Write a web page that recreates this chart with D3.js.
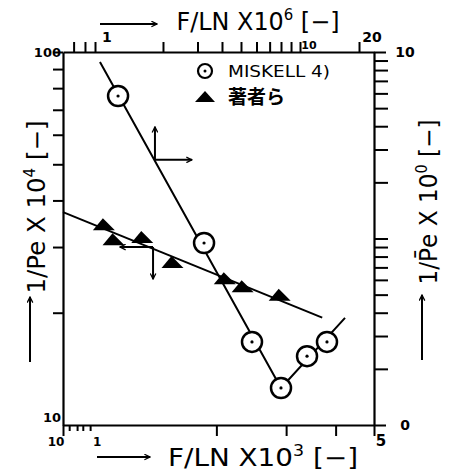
<!DOCTYPE html>
<html><head><meta charset="utf-8">
<script src="https://cdn.jsdelivr.net/npm/d3@7"></script>
<style>body{margin:0;background:#fff}</style>
</head><body>
<svg id="c" width="453" height="474"></svg>
<script>
// ---- data ----
const seriesNames = ["MISKELL 4)", "著者ら"];
// MISKELL: top axis (F/LN x10^6) vs right axis (1/Pe x10^0)
const miskellX = [1.18, 3.24, 5.69, 8.0, 10.86, 13.73];
const miskellY = [5.81, 0.946, 0.279, 0.158, 0.234, 0.279];
const miskellFitX = [0.954, 8.0, 16.97];
const miskellFitY = [8.84, 0.158, 0.375];
// Authors: bottom axis (F/LN x10^3) vs left axis (1/Pe x10^4)
const authorsX = [1.04, 1.10, 1.30, 1.55, 2.10, 2.33, 2.89];
const authorsY = [34.3, 31.3, 31.7, 27.2, 24.6, 23.4, 22.2];
const authorsFitX = [0.82, 3.70];
const authorsFitY = [37.2, 19.4];

const leftTicks = [20, 30, 40, 50, 60, 70, 80, 90, 100];
const leftLabelValues = [10, 100];
const leftLabelTexts = ["10", "100"];
const rightTicks = [0.1, 0.2, 0.3, 0.4, 0.5, 0.6, 0.7, 0.8, 0.9, 1, 2, 3, 4, 5, 6, 7, 8, 9, 10];
const rightLabelValues = [10, 0.1];
const rightLabelTexts = ["10", "0"];
const bottomTicks = [0.82, 0.85, 0.89, 0.92, 0.96, 2, 3, 4, 5];
const bottomLabelValues = [0.82, 1, 5];
const bottomLabelTexts = ["10", "1", "5"];
const topTicks = [0.7, 0.8, 0.9, 2, 3, 4, 5, 6, 7, 8, 9, 10, 20];
const topLabelValues = [1, 10, 20];
const topLabelTexts = ["1", "10", "20"];

// ---- scales ----
const L = 63, R = 374, T = 52, B = 425;
const xBottom = d3.scaleLog().domain([0.82, 5]).range([L, R]);
const xTop = d3.scaleLog().domain([0.618, 23.85]).range([L, R]);
const yLeft = d3.scaleLog().domain([10, 100]).range([B, T]);
const yRight = d3.scaleLog().domain([0.1, 10]).range([B, T]);

const svg = d3.select("#c");
const FONT = "DejaVu Sans, sans-serif";

svg.append("defs").append("marker")
  .attr("id", "ah").attr("viewBox", "0 0 10 10").attr("refX", 9).attr("refY", 5)
  .attr("markerWidth", 7).attr("markerHeight", 7).attr("markerUnits", "userSpaceOnUse")
  .attr("orient", "auto")
  .append("path").attr("d", "M1,1 L9,5 L1,9").attr("fill", "none")
  .attr("stroke", "#000").attr("stroke-width", 1.8);

function styleAxis(g) {
  g.select(".domain").attr("stroke", "#000").attr("stroke-width", 2.2);
  g.selectAll(".tick line").attr("stroke", "#000").attr("stroke-width", 2);
  g.selectAll(".tick text").remove();
}

// axes
svg.append("g").attr("transform", `translate(${L},0)`)
  .call(d3.axisLeft(yLeft).tickValues(leftTicks).tickSize(10).tickSizeOuter(0))
  .call(styleAxis);
svg.append("g").attr("transform", `translate(${R},0)`)
  .call(d3.axisRight(yRight).tickValues(rightTicks).tickSize(13).tickSizeOuter(0))
  .call(styleAxis)
  .selectAll(".tick line").attr("x2", d => (d === 10 || d === 0.1) ? 12 : 14);
svg.append("g").attr("transform", `translate(0,${B})`)
  .call(d3.axisBottom(xBottom).tickValues(bottomTicks).tickSize(10).tickSizeOuter(0))
  .call(styleAxis)
  .selectAll(".tick line").attr("y2", d => d < 1 && d > 0.83 ? 6 : 11);
svg.append("g").attr("transform", `translate(0,${T})`)
  .call(d3.axisTop(xTop).tickValues(topTicks).tickSize(10).tickSizeOuter(0))
  .call(styleAxis);

// tick labels
const lab = (x, y, t, size, anchor) => svg.append("text").attr("x", x).attr("y", y)
  .attr("font-family", FONT).attr("font-size", size).attr("text-anchor", anchor || "middle")
  .attr("font-weight", "bold").text(t);
leftLabelValues.forEach((v, i) => lab(L - 2, yLeft(v) + 5 - (v === 10 ? 8 : 0), leftLabelTexts[i], 13, "end"));
rightLabelValues.forEach((v, i) => lab(R + 31, yRight(v) + 5, rightLabelTexts[i], 14, "middle"));
bottomLabelValues.forEach((v, i) => lab(xBottom(v) + (i === 0 ? -7 : (i === 2 ? 7 : 0)), B + 21, bottomLabelTexts[i], i === 2 ? 15 : 12, "middle"));
topLabelValues.forEach((v, i) => lab(xTop(v) + (i === 0 ? 3 : (i === 1 ? 9 : 13)), T - (i === 1 ? 3 : 10), topLabelTexts[i], i === 1 ? 11 : 14, "middle"));

// axis titles
function title(g, main, sup, len) {
  const t = g.append("text").attr("font-family", FONT).attr("font-size", 24)
    .attr("text-anchor", "middle").attr("textLength", len).attr("lengthAdjust", "spacingAndGlyphs");
  t.append("tspan").text(main);
  t.append("tspan").attr("dy", -10).attr("font-size", 15).text(sup);
  t.append("tspan").attr("dy", 10).text(" [−]");
  return t;
}
function arrow(x1, y1, x2, y2) {
  svg.append("line").attr("x1", x1).attr("y1", y1).attr("x2", x2).attr("y2", y2)
    .attr("stroke", "#000").attr("stroke-width", 2).attr("marker-end", "url(#ah)");
}
// bottom
title(svg.append("g").attr("transform", "translate(263,466)"), "F/LN X10", "3", 190);
arrow(97, 457, 150, 457);
// top
title(svg.append("g").attr("transform", "translate(258,30)"), "F/LN X10", "6", 163);
arrow(100, 24, 157, 24);
// left
title(svg.append("g").attr("transform", "translate(45,207) rotate(-90)"), "1/Pe X 10", "4", 173);
arrow(30, 362, 30, 297);
// right
title(svg.append("g").attr("transform", "translate(437,202) rotate(-90)"), "1/P\u0304e X 10", "0", 165);
arrow(422, 360, 422, 295);

// fit lines
svg.append("path")
  .attr("d", d3.line()(miskellFitX.map((x, i) => [xTop(x), yRight(miskellFitY[i])])))
  .attr("fill", "none").attr("stroke", "#000").attr("stroke-width", 2);
svg.append("path")
  .attr("d", d3.line()(authorsFitX.map((x, i) => [xBottom(x), yLeft(authorsFitY[i])])))
  .attr("fill", "none").attr("stroke", "#000").attr("stroke-width", 2);

// direction arrows (annotation in data coords)
const ma = [xTop(1.82), yRight(2.64)];
arrow(ma[0], ma[1], ma[0], ma[1] - 33);
arrow(ma[0], ma[1], ma[0] + 37, ma[1]);
const aa = [xBottom(1.384), yLeft(30.0)];
arrow(aa[0], aa[1], aa[0] - 33, aa[1]);
arrow(aa[0], aa[1], aa[0], aa[1] + 32);

// markers
const triPath = "M-1,-7 L11,5 L-11,5 Z";
svg.append("g").selectAll("path").data(authorsX).join("path")
  .attr("d", triPath)
  .attr("transform", (d, i) => `translate(${xBottom(d)},${yLeft(authorsY[i])})`)
  .attr("fill", "#000");
const cg = svg.append("g").selectAll("g").data(miskellX).join("g")
  .attr("transform", (d, i) => `translate(${xTop(d)},${yRight(miskellY[i])})`);
cg.append("circle").attr("r", 10).attr("fill", "#fff").attr("stroke", "#000").attr("stroke-width", 2.5);
cg.append("circle").attr("r", 1.6).attr("fill", "#000");

// legend
const lg = svg.append("g");
lg.append("circle").attr("cx", 205).attr("cy", 71).attr("r", 7).attr("fill", "#fff").attr("stroke", "#000").attr("stroke-width", 2.2);
lg.append("circle").attr("cx", 205).attr("cy", 71).attr("r", 1.5).attr("fill", "#000");
lg.append("text").attr("x", 228).attr("y", 77).attr("font-family", FONT).attr("font-size", 16)
  .attr("textLength", 102).attr("lengthAdjust", "spacingAndGlyphs").text(seriesNames[0]);
lg.append("path").attr("d", "M0,-6 L10,5 L-10,5 Z").attr("transform", "translate(205,97)").attr("fill", "#000");
lg.append("text").attr("x", 228).attr("y", 104).attr("font-family", "Noto Sans CJK JP, sans-serif")
  .attr("font-size", 19).attr("font-weight", "bold").text(seriesNames[1]);
</script>
</body></html>
